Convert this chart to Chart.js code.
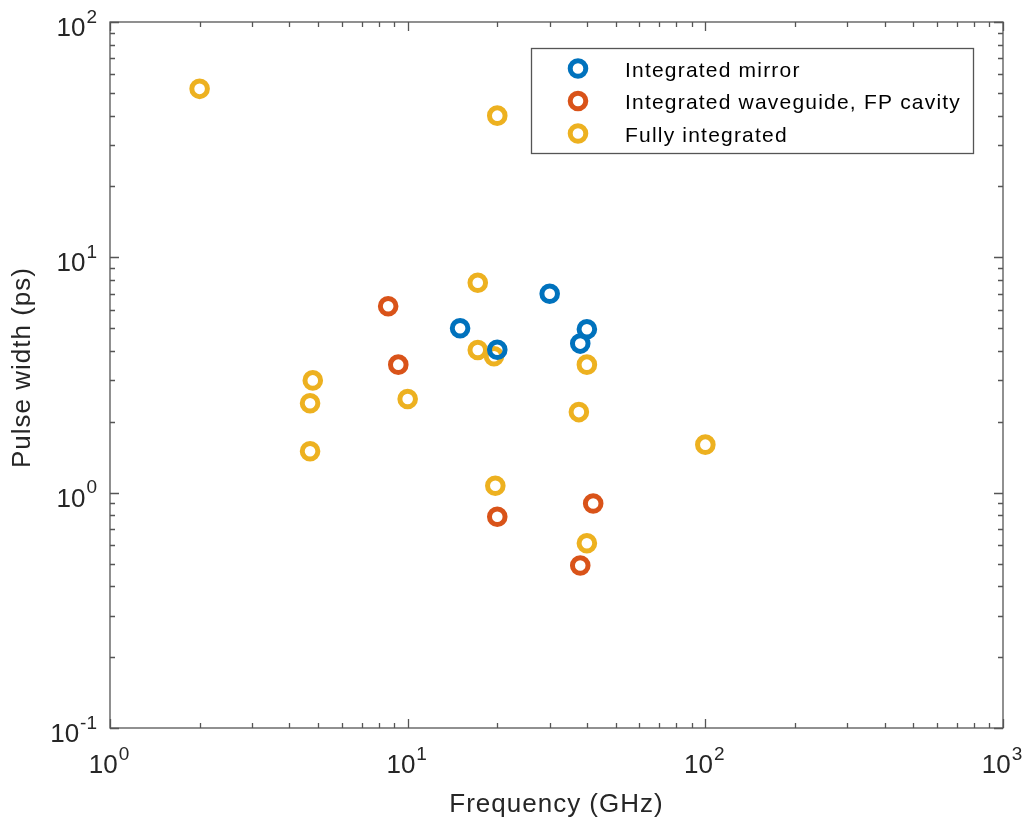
<!DOCTYPE html>
<html>
<head>
<meta charset="utf-8">
<script src="https://cdn.jsdelivr.net/npm/chart.js@4.4.1/dist/chart.umd.min.js"></script>
<style>
  html, body { margin: 0; padding: 0; background: #fff; }
</style>
</head>
<body>
<canvas id="myChart" width="1028" height="818"></canvas>
<script>
const SERIES_NAMES = ["Integrated mirror", "Integrated waveguide, FP cavity", "Fully integrated"];
const COLORS = ["#0072BD", "#D95319", "#EDB120"];

// frequency (GHz) / pulse width (ps)
const mirrorFreq  = [15, 30, 40, 38, 20];
const mirrorWidth = [5.0, 7.0, 4.95, 4.3, 4.05];

const waveguideFreq  = [8.6, 9.3, 20, 42, 38];
const waveguideWidth = [6.2, 3.5, 0.79, 0.9, 0.49];

const fullFreq  = [2, 20, 17.2, 17.2, 19.5, 4.8, 4.7, 4.7, 10, 40, 37.6, 19.7, 40, 100];
const fullWidth = [52, 40, 7.8, 4.04, 3.8, 3.0, 2.4, 1.5, 2.5, 3.5, 2.2, 1.07, 0.61, 1.6];

const X_DECADES = [0, 1, 2, 3];
const Y_DECADES = [-1, 0, 1, 2];

const FONT = '"Liberation Sans", Arial, Helvetica, sans-serif';
const TEXT_COLOR = "#262626";
const AXIS_COLOR = "#555555";

function points(xs, ys) {
    return xs.map((x, i) => ({x: x, y: ys[i]}));
}

// draws "10" with a raised exponent
function powerLabel(ctx, exp, x, baseY, expY, align) {
    ctx.font = "26px " + FONT;
    const wBase = ctx.measureText("10").width;
    ctx.font = "19px " + FONT;
    const wExp = ctx.measureText(exp).width;
    const total = wBase + 1 + wExp;
    let left = x;
    if (align === "right") left = x - total;
    if (align === "center") left = x - total / 2;
    ctx.textAlign = "left";
    ctx.textBaseline = "alphabetic";
    ctx.font = "26px " + FONT;
    ctx.fillText("10", left, baseY);
    ctx.font = "19px " + FONT;
    ctx.fillText(exp, left + wBase + 1, expY);
}

const axesBox = {
    id: "axesBox",
    beforeDatasetsDraw(chart) {
        const ctx = chart.ctx;
        const xs = chart.scales.x, ys = chart.scales.y;
        const a = chart.chartArea;
        ctx.save();
        ctx.strokeStyle = AXIS_COLOR;
        ctx.lineWidth = 1.3;
        ctx.strokeRect(a.left, a.top, a.right - a.left, a.bottom - a.top);

        // tick marks on all four sides, pointing inwards
        ctx.beginPath();
        X_DECADES.forEach(d => {
            for (let m = 1; m <= 9; m++) {
                if (d === 3 && m > 1) break;
                const px = Math.round(xs.getPixelForValue(m * Math.pow(10, d))) + 0.5;
                const len = m === 1 ? 9 : 5;
                ctx.moveTo(px, a.bottom); ctx.lineTo(px, a.bottom - len);
                ctx.moveTo(px, a.top); ctx.lineTo(px, a.top + len);
            }
        });
        Y_DECADES.forEach(d => {
            for (let m = 1; m <= 9; m++) {
                if (d === 2 && m > 1) break;
                const py = Math.round(ys.getPixelForValue(m * Math.pow(10, d))) + 0.5;
                const len = m === 1 ? 9 : 5;
                ctx.moveTo(a.left, py); ctx.lineTo(a.left + len, py);
                ctx.moveTo(a.right, py); ctx.lineTo(a.right - len, py);
            }
        });
        ctx.stroke();

        // tick labels
        ctx.fillStyle = TEXT_COLOR;
        X_DECADES.forEach(d => {
            const px = xs.getPixelForValue(Math.pow(10, d));
            powerLabel(ctx, String(d), px - 1, a.bottom + 44.5, a.bottom + 32, "center");
        });
        Y_DECADES.forEach(d => {
            const py = ys.getPixelForValue(Math.pow(10, d));
            powerLabel(ctx, String(d), 97, py + 14, py + 0.5, "right");
        });

        // axis titles
        ctx.font = "26px " + FONT;
        ctx.letterSpacing = "1px";
        ctx.textAlign = "center";
        ctx.textBaseline = "alphabetic";
        ctx.fillText("Frequency (GHz)", (a.left + a.right) / 2, 811.5);
        ctx.translate(29.5, 367.5);
        ctx.rotate(-Math.PI / 2);
        ctx.fillText("Pulse width (ps)", 0, 0);
        ctx.restore();
    },
    afterDatasetsDraw(chart) {
        // boxed legend in the upper right of the axes
        const ctx = chart.ctx;
        ctx.save();
        ctx.fillStyle = "#fff";
        ctx.fillRect(531, 48, 443, 105);
        ctx.strokeStyle = AXIS_COLOR;
        ctx.lineWidth = 1.3;
        ctx.strokeRect(531.5, 48.5, 442, 105);
        const rows = [68.5, 101, 133.5];
        chart.data.datasets.forEach((ds, i) => {
            ctx.beginPath();
            ctx.arc(578, rows[i], ds.pointRadius, 0, Math.PI * 2);
            ctx.strokeStyle = ds.borderColor;
            ctx.lineWidth = ds.borderWidth;
            ctx.stroke();
            ctx.fillStyle = "#000";
            ctx.font = "21px " + FONT;
            ctx.letterSpacing = "1.2px";
            ctx.textAlign = "left";
            ctx.textBaseline = "alphabetic";
            ctx.fillText(ds.label, 625, rows[i] + 8);
        });
        ctx.restore();
    }
};

function makeDataset(i, xs, ys) {
    return {
        label: SERIES_NAMES[i],
        data: points(xs, ys),
        borderColor: COLORS[i],
        backgroundColor: "rgba(0,0,0,0)",
        borderWidth: 5,
        pointRadius: 7.8,
        pointHoverRadius: 7.8,
        pointStyle: "circle",
        showLine: false
    };
}

const ctx = document.getElementById("myChart");
new Chart(ctx, {
    type: "scatter",
    data: {
        datasets: [
            makeDataset(0, mirrorFreq, mirrorWidth),
            makeDataset(1, waveguideFreq, waveguideWidth),
            makeDataset(2, fullFreq, fullWidth)
        ]
    },
    options: {
        responsive: false,
        animation: false,
        events: [],
        layout: { padding: { left: 110, top: 22, right: 25, bottom: 90 } },
        plugins: { legend: { display: false }, tooltip: { enabled: false } },
        scales: {
            x: { type: "logarithmic", min: 1, max: 1000, display: false },
            y: { type: "logarithmic", min: 0.1, max: 100, display: false }
        }
    },
    plugins: [axesBox]
});
</script>
</body>
</html>
